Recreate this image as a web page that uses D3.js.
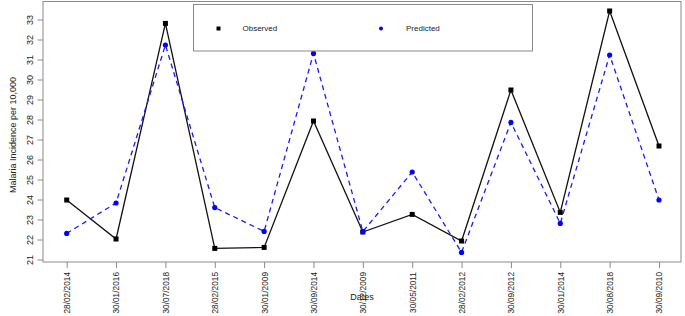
<!DOCTYPE html>
<html>
<head>
<meta charset="utf-8">
<script src="https://cdn.jsdelivr.net/npm/d3@7"></script>
<style>
body { margin: 0; background: white; }
svg { display: block; font-family: "Liberation Sans", Arial, sans-serif; }
</style>
</head>
<body>
<div id="chart"></div>
<script>
const dates = ["28/02/2014", "30/01/2016", "30/07/2018", "28/02/2015", "30/01/2009", "30/09/2014",
  "30/12/2009", "30/05/2011", "28/02/2012", "30/09/2012", "30/01/2014", "30/08/2018", "30/09/2010"];
const observed = [24.0, 22.05, 32.83, 21.58, 21.63, 27.95, 22.4, 23.28, 21.95, 29.5, 23.38, 33.45, 26.7];
const predicted = [22.33, 23.85, 31.75, 23.62, 22.43, 31.33, 22.42, 25.4, 21.38, 27.88, 22.83, 31.25, 24.0];
const yTicks = [21, 22, 23, 24, 25, 26, 27, 28, 29, 30, 31, 32, 33];

const width = 685, height = 316;
const box = { left: 43, right: 681, top: 1.5, bottom: 262 };

const svg = d3.select("#chart").append("svg")
  .attr("width", width)
  .attr("height", height);

// x: one slot per date
const x = d3.scalePoint()
  .domain(dates)
  .range([66.7, 659]);

const y = d3.scaleLinear()
  .domain([21, 33])
  .range([260, 20]);

// plot frame
svg.append("rect")
  .attr("x", box.left).attr("y", box.top)
  .attr("width", box.right - box.left)
  .attr("height", box.bottom - box.top)
  .attr("fill", "none")
  .attr("stroke", "#8a8a8a")
  .attr("stroke-width", 1);

// y axis
const yAxis = svg.append("g")
  .attr("transform", `translate(${box.left},0)`)
  .call(d3.axisLeft(y).tickValues(yTicks).tickSize(5.5).tickPadding(4));
yAxis.select(".domain").remove();
yAxis.selectAll("line").attr("stroke", "#8a8a8a");
yAxis.selectAll("text")
  .attr("font-size", 9)
  .attr("fill", "#222")
  .attr("x", 0).attr("dy", 0)
  .attr("text-anchor", "middle")
  .attr("transform", d => `translate(-10,${y(d)}) rotate(-90)`)
  .attr("y", 0);
yAxis.selectAll(".tick").attr("transform", null);
yAxis.selectAll(".tick line").attr("y1", d => y(d)).attr("y2", d => y(d));

// x axis
const xAxis = svg.append("g")
  .attr("transform", `translate(0,${box.bottom})`)
  .call(d3.axisBottom(x).tickSize(6).tickPadding(4));
xAxis.select(".domain").remove();
xAxis.selectAll("line").attr("stroke", "#8a8a8a");
xAxis.selectAll("text")
  .attr("font-size", 8.3)
  .attr("fill", "#222")
  .attr("text-anchor", "end")
  .attr("dy", "0.35em")
  .attr("x", 0).attr("y", 0)
  .attr("transform", "translate(0,10) rotate(-90)");

// axis titles
svg.append("text")
  .attr("transform", `translate(13,${(20 + 260) / 2 - 5}) rotate(-90)`)
  .attr("text-anchor", "middle")
  .attr("dy", "0.35em")
  .attr("font-size", 9)
  .attr("fill", "#222")
  .text("Malaria Incidence per 10,000");

svg.append("text")
  .attr("x", (box.left + box.right) / 2)
  .attr("y", 300)
  .attr("text-anchor", "middle")
  .attr("font-size", 9)
  .attr("fill", "#222")
  .text("Dates");

// series
const line = vals => d3.line()
  .x((d, i) => x(dates[i]))
  .y(d => y(d))(vals);

svg.append("path")
  .attr("d", line(observed))
  .attr("fill", "none")
  .attr("stroke", "#111")
  .attr("stroke-width", 1.3);

svg.append("path")
  .attr("d", line(predicted))
  .attr("fill", "none")
  .attr("stroke", "#1a1aff")
  .attr("stroke-width", 1.3)
  .attr("stroke-dasharray", "5,4");

svg.append("g").selectAll("rect")
  .data(observed)
  .join("rect")
  .attr("x", (d, i) => x(dates[i]) - 2.5)
  .attr("y", d => y(d) - 2.5)
  .attr("width", 5).attr("height", 5)
  .attr("fill", "black");

svg.append("g").selectAll("circle")
  .data(predicted)
  .join("circle")
  .attr("cx", (d, i) => x(dates[i]))
  .attr("cy", d => y(d))
  .attr("r", 2.6)
  .attr("fill", "#0000ff");

// legend
const legend = svg.append("g");
legend.append("rect")
  .attr("x", 193.5).attr("y", 4.5)
  .attr("width", 339).attr("height", 46.5)
  .attr("fill", "white")
  .attr("stroke", "#8a8a8a");
legend.append("rect")
  .attr("x", 216.5).attr("y", 26.5).attr("width", 4).attr("height", 4)
  .attr("fill", "black");
legend.append("text")
  .attr("x", 242.5).attr("y", 28.5).attr("dy", "0.35em")
  .attr("font-size", 8).attr("fill", "#222")
  .text("Observed");
legend.append("circle")
  .attr("cx", 381).attr("cy", 28.5).attr("r", 2)
  .attr("fill", "#0000ff");
legend.append("text")
  .attr("x", 406).attr("y", 28.5).attr("dy", "0.35em")
  .attr("font-size", 8).attr("fill", "#222")
  .text("Predicted");
</script>
</body>
</html>
